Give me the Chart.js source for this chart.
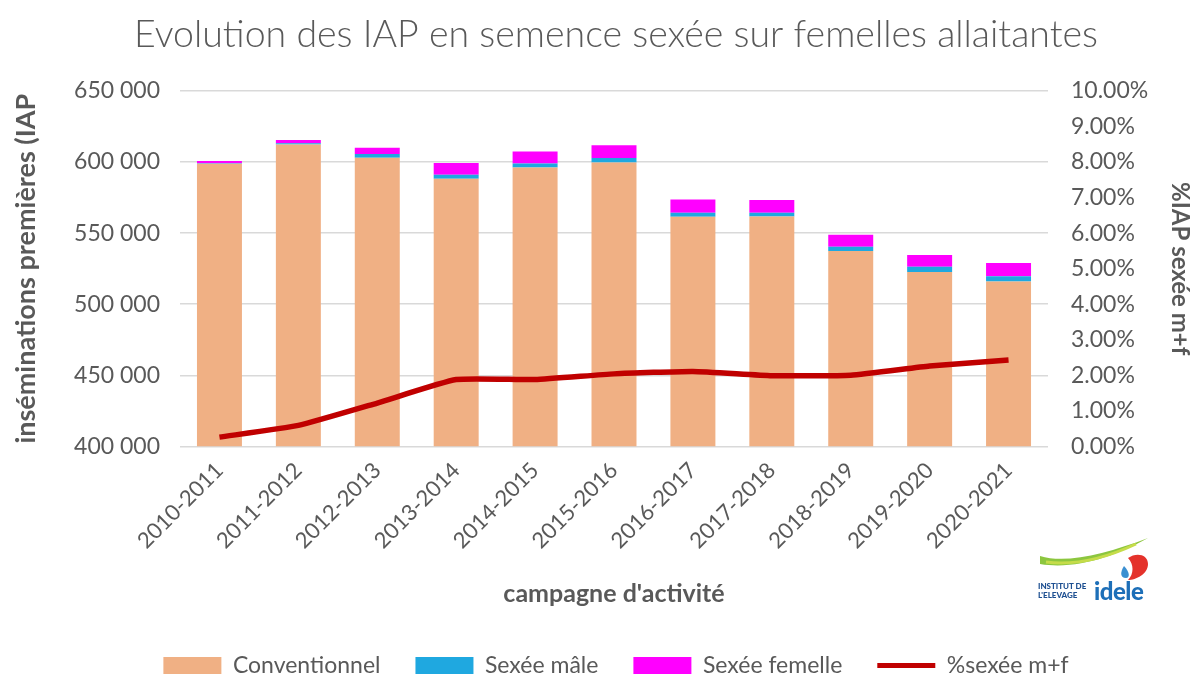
<!DOCTYPE html>
<html>
<head>
<meta charset="utf-8">
<script src="https://cdn.jsdelivr.net/npm/chart.js@4.4.1/dist/chart.umd.min.js"></script>
<style>
  body { margin: 0; background: #fff; }
  .wrap { position: relative; width: 1192px; height: 677px; }
  .logo { position: absolute; left: 1036px; top: 536px; width: 116px; height: 70px; font-family: Lato, sans-serif; }
  .logo .t { position: absolute; left: 2px; top: 46px; font-size: 8px; font-weight: 900; color: #1d4f91; line-height: 9px; }
  .logo .i { position: absolute; left: 58px; top: 40px; font-size: 24px; font-weight: 900; color: #1d6fb8; letter-spacing: -0.5px; }
</style>
</head>
<body>
<div class="wrap">
  <canvas id="chart" width="1192" height="677"></canvas>
  <div class="logo">
    <svg width="116" height="46" viewBox="0 0 116 46">
      <path d="M4 20 C30 28 70 18 112 2 C80 20 40 34 4 28 Z" fill="#8cc63f"/>
      <path d="M10 26 C40 30 70 22 100 8" stroke="#c5dc4a" stroke-width="3" fill="none"/>
      <path d="M92 22 C100 16 112 18 112 28 C112 38 100 44 92 44 C98 38 98 28 92 22 Z" fill="#e4322b"/>
      <path d="M88 30 C84 36 84 42 90 42 C94 42 94 36 88 30 Z" fill="#3a8fd1"/>
    </svg>
    <div class="t">INSTITUT DE<br>L'ELEVAGE</div>
    <div class="i">idele</div>
  </div>
</div>
<script>
const campagnes = ["2010-2011", "2011-2012", "2012-2013", "2013-2014", "2014-2015", "2015-2016",
  "2016-2017", "2017-2018", "2018-2019", "2019-2020", "2020-2021"];
const conventionnel = [598800, 612400, 603000, 588200, 596200, 599700, 561500, 561800, 537500, 522700, 515900];
const sexeeMale = [400, 800, 2600, 2800, 2800, 3100, 2800, 2600, 3000, 3600, 3700];
const sexeeFemelle = [1500, 2400, 4400, 8400, 8400, 9100, 9300, 8900, 8400, 8400, 9400];
const pctSexee = [0.26, 0.59, 1.22, 1.88, 1.88, 2.04, 2.11, 1.99, 2.0, 2.26, 2.43];

const grey = '#595959';
const font = 'Lato, "Open Sans", sans-serif';

const ctx = document.getElementById('chart');
new Chart(ctx, {
  type: 'bar',
  data: {
    labels: campagnes,
    datasets: [
      { label: 'Conventionnel', data: conventionnel, backgroundColor: '#f0b084', yAxisID: 'y', order: 1, pointStyle: 'rect', borderWidth: 0 },
      { label: 'Sexée mâle', data: sexeeMale, backgroundColor: '#1fa8e0', yAxisID: 'y', order: 1, pointStyle: 'rect', borderWidth: 0 },
      { label: 'Sexée femelle', data: sexeeFemelle, backgroundColor: '#ff00ff', yAxisID: 'y', order: 1, pointStyle: 'rect', borderWidth: 0 },
      { type: 'line', label: '%sexée m+f', data: pctSexee, yAxisID: 'y2', order: 0,
        borderColor: '#c00000', backgroundColor: '#c00000', borderWidth: 5.5,
        pointRadius: 0, pointBorderWidth: 5, pointStyle: 'line', tension: 0.15, fill: false }
    ]
  },
  options: {
    responsive: false,
    animation: false,
    devicePixelRatio: 1,
    // left padding shifts the centred title and legend to the right, like the original
    layout: { padding: { left: 40, right: 0, top: 0, bottom: -10 } },
    datasets: { bar: { barPercentage: 0.57, categoryPercentage: 1 } },
    plugins: {
      title: {
        display: true,
        text: 'Evolution des IAP en semence sexée sur femelles allaitantes',
        color: grey,
        font: { family: font, size: 37.5, weight: '300' },
        padding: { top: 12, bottom: 34 }
      },
      legend: {
        position: 'bottom',
        labels: {
          usePointStyle: true,
          pointStyleWidth: 58,
          boxHeight: 17,
          padding: 35,
          color: grey,
          font: { family: font, size: 23 },
          sort: (a, b) => a.datasetIndex - b.datasetIndex
        }
      },
      tooltip: { enabled: false }
    },
    scales: {
      x: {
        stacked: true,
        grid: { display: false },
        border: { display: false },
        ticks: { color: grey, font: { family: font, size: 22 }, maxRotation: 45, minRotation: 45 },
        title: {
          display: true, text: "campagne d'activité", color: grey,
          font: { family: font, size: 25, weight: 'bold' }, padding: { top: 22, bottom: 10 }
        }
      },
      y: {
        stacked: true,
        position: 'left',
        min: 400000, max: 650000,
        afterFit: s => { s.width = 140; },
        grid: { color: '#d9d9d9', lineWidth: 1.5, drawTicks: false },
        border: { display: false },
        ticks: {
          stepSize: 50000, color: grey, padding: 20,
          font: { family: font, size: 23 },
          callback: v => v.toLocaleString('fr-FR').replace(/\s/g, ' ')
        },
        title: {
          display: true, text: 'inséminations premières (IAP', color: grey,
          font: { family: font, size: 27, weight: 'bold' }, padding: { top: -30, bottom: 0 }
        }
      },
      y2: {
        position: 'right',
        min: 0, max: 10,
        afterFit: s => { s.width = 144; },
        grid: { display: false, drawTicks: false },
        border: { display: false },
        ticks: {
          stepSize: 1, color: grey, padding: 23,
          font: { family: font, size: 23 },
          callback: v => v.toFixed(2) + '%'
        },
        title: {
          display: true, text: '%IAP sexée m+f', color: grey,
          font: { family: font, size: 24, weight: 'bold', lineHeight: 1 }, padding: { top: 0, bottom: 0 }
        }
      }
    }
  }
});
</script>
</body>
</html>
